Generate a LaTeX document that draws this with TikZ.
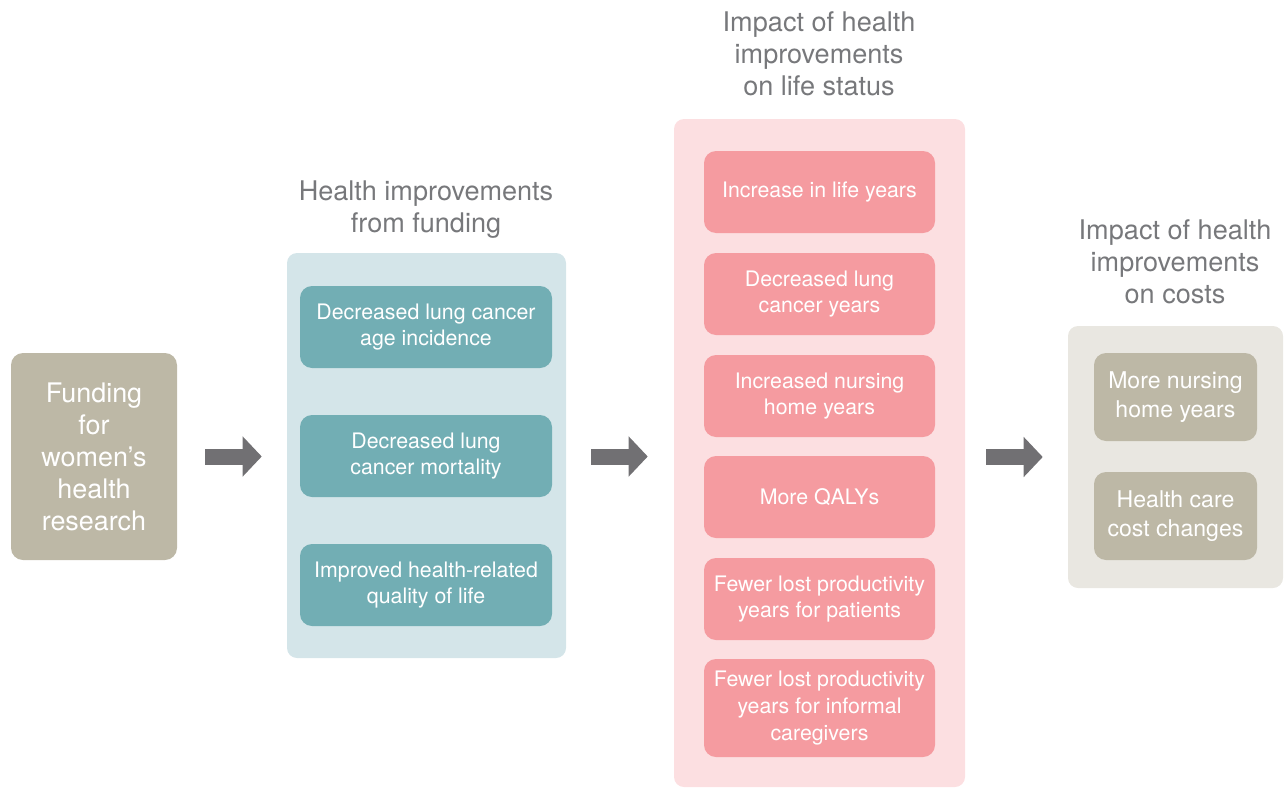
\documentclass[tikz,border=0pt]{standalone}
\usepackage{fontspec}
\setmainfont{TeX Gyre Heros}
\usepackage{tikz}
\usetikzlibrary{calc}
\usetikzlibrary{arrows.meta}
\definecolor{tan}{HTML}{BDB8A6}
\definecolor{bluepanel}{HTML}{D4E5E9}
\definecolor{tealbox}{HTML}{72AEB4}
\definecolor{pinkpanel}{HTML}{FCDFE1}
\definecolor{pinkbox}{HTML}{F59BA0}
\definecolor{graypanel}{HTML}{E9E7E1}
\definecolor{arrowgray}{HTML}{717073}
\definecolor{titlegray}{HTML}{77787B}
\tikzset{panel/.style={rounded corners=7.5pt, inner sep=0pt},
 item/.style={rounded corners=9pt, inner sep=0pt, text=white, align=center,
  font=\fontsize{16}{20}\selectfont},
 heading/.style={text=titlegray, align=center, font=\fontsize{20.3}{24}\selectfont},
 bigarrow/.style={arrowgray, line width=12pt, -{Triangle[length=14.25pt, width=29.25pt]}}
}

\begin{document}
\begin{tikzpicture} [x=0.75pt, y=-0.75pt]
\useasboundingbox (0,0) rectangle (1286,789);
% funding
\node[item, fill=tan, minimum width=124.5pt, minimum height=155.25pt,
 font=\fontsize{20.2}{24}\selectfont] (fund) at (94,456.5)
 {Funding\\for\\women's\\health\\research};
% health improvements
\node[panel, fill=bluepanel, minimum width=209.25pt, minimum height=303.75pt] (blue) at (426.5,455.5) {};
\node[heading] (bluetitle) at (426,210) {Health improvements\\from funding};
\foreach \y/\txt [count=\i] in {327/{Decreased lung cancer\\age incidence},
  456/{Decreased lung\\cancer mortality},
  585/{Improved health-related\\quality of life}} {
 \node[item, fill=tealbox, minimum width=189pt, minimum height=61.5pt] (blue\i) at (426,\y) {\txt};
}
% life status
\node[panel, fill=pinkpanel, minimum width=218.25pt, minimum height=501pt] (pink) at (819.5,453) {};
\node[heading] (pinktitle) at (819,54) {Impact of health\\improvements\\on life status};
\foreach \y/\txt [count=\i] in {192/{Increase in life years},
  294/{Decreased lung\\cancer years},
  396/{Increased nursing\\home years},
  497/{More QALYs},
  599/{Fewer lost productivity\\years for patients}} {
 \node[item, fill=pinkbox, minimum width=173.25pt, minimum height=61.5pt] (pink\i) at (819.5,\y) {\txt};
}
\node[item, fill=pinkbox, minimum width=173.25pt, minimum height=73.5pt] (pink6) at (819.5,708)
 {Fewer lost productivity\\years for informal\\caregivers};
% costs
\node[panel, fill=graypanel, minimum width=161.25pt, minimum height=196.5pt] (gray) at (1175.5,457) {};
\node[heading] (graytitle) at (1175,262) {Impact of health\\improvements\\on costs};
\node[item, fill=tan, minimum width=122.25pt, minimum height=66pt,
 font=\fontsize{17.3}{21.75}\selectfont] (gray1) at (1175.5,397) {More nursing\\home years};
\node[item, fill=tan, minimum width=122.25pt, minimum height=66pt,
 font=\fontsize{17.3}{21.75}\selectfont] (gray2) at (1175.5,516) {Health care\\cost changes};
% arrows
\draw[bigarrow, shorten <=21pt, shorten >=18.75pt] (fund.east) -- (fund.east -| blue.west);
\draw[bigarrow, shorten <=18.75pt, shorten >=19.5pt] (fund.east -| blue.east) -- (fund.east -| pink.west);
\draw[bigarrow, shorten <=15.75pt, shorten >=18.75pt] (gray.west -| pink.east) -- (gray.west);
\end{tikzpicture}
\end{document}
